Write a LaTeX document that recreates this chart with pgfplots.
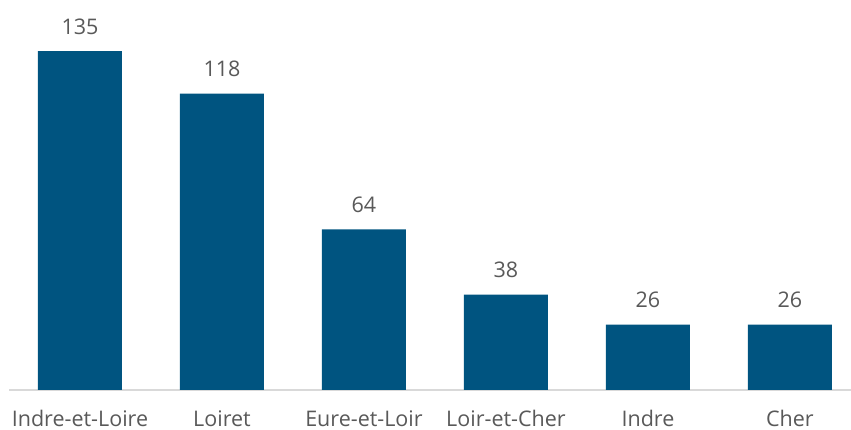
\documentclass[border=0pt]{standalone}
\usepackage{fontspec}
\setmainfont{Open Sans}
\usepackage{pgfplots}
\pgfplotsset{compat=1.18}
\definecolor{barblue}{HTML}{005480}
\definecolor{txtgray}{HTML}{595959}
\definecolor{axgray}{HTML}{D9D9D9}
\begin{document}
\begin{tikzpicture}[x=1pt,y=1pt]
\useasboundingbox (0,0) rectangle (851,430);
\begin{axis}[
  at={(9pt,40pt)}, anchor=south west,
  scale only axis, width=842pt, height=376.6pt,
  xmin=-0.5, xmax=5.43, ymin=0, ymax=150,
  clip=false,
  /pgf/number format/assume math mode=true,
  hide y axis,
  axis x line*=bottom,
  x axis line style={-, draw=axgray, line width=1.2pt},
  xtick=data,
  xticklabels={Indre-et-Loire,Loiret,Eure-et-Loir,Loir-et-Cher,Indre,Cher},
  xtick style={draw=none},
  xticklabel style={anchor=base, inner sep=0pt, text depth=0pt, yshift=-32.5pt, font=\fontsize{21.5}{24}\selectfont, text=txtgray},
  ybar, bar width=84pt,
  nodes near coords,
  every node near coord/.append style={anchor=base, inner sep=0pt, yshift=17pt, font=\fontsize{21.5}{24}\selectfont, text=txtgray},
]
\addplot[fill=barblue, draw=none] coordinates {(0,135) (1,118) (2,64) (3,38) (4,26) (5,26)};
\end{axis}
\end{tikzpicture}
\end{document}
